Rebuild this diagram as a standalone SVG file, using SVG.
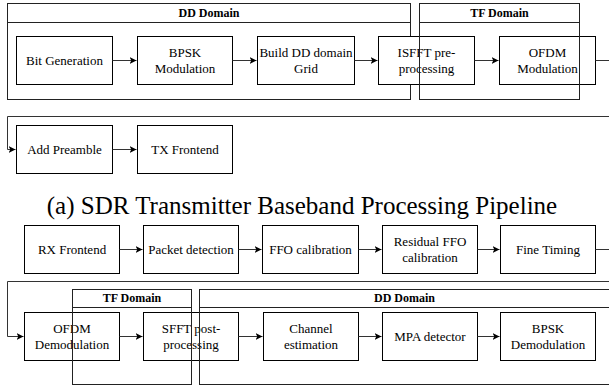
<svg xmlns="http://www.w3.org/2000/svg" width="609" height="387" viewBox="0 0 609 387" font-family="'Liberation Serif', 'Times New Roman', serif">
<defs>
<marker id="ah" markerWidth="8" markerHeight="8" refX="7" refY="4" orient="auto" markerUnits="userSpaceOnUse">
<path d="M0,0.5 L7,4 L0,7.5 L1.8,4 Z" fill="#000"/>
</marker>
<style>
.n rect{fill:#fff;stroke:#000;stroke-width:1}
.d rect,.d line{fill:none;stroke:#222;stroke-width:1}
.t{font-family:'Liberation Serif','Times New Roman',serif;font-size:13px;text-anchor:middle;fill:#000}
.h{font-family:'Liberation Serif','Times New Roman',serif;font-size:12px;font-weight:bold;text-anchor:middle;fill:#000}
.c path{fill:none;stroke:#333;stroke-width:1;marker-end:url(#ah)}
.cap{font-family:'Liberation Serif','Times New Roman',serif;font-size:25px;text-anchor:middle;fill:#000}
</style>
</defs>

<g id="dd-domain-tx" class="d">
<rect x="7.5" y="3.5" width="403" height="96"/>
<line x1="7.5" y1="22.5" x2="410.5" y2="22.5"/>
<text class="h" x="209" y="17">DD Domain</text>
</g>

<g id="bit-gen" class="n"><rect x="16.5" y="36.5" width="96" height="48"/><text class="t" x="64.5" y="65">Bit Generation</text></g>
<g id="bpsk-mod" class="n"><rect x="137.5" y="36.5" width="95" height="48"/><text class="t" x="185" y="57">BPSK</text><text class="t" x="185" y="73">Modulation</text></g>
<g id="build-dd" class="n"><rect x="257.5" y="36.5" width="97" height="48"/><text class="t" x="306" y="57">Build DD domain</text><text class="t" x="306" y="73">Grid</text></g>
<g id="isfft" class="n"><rect x="378.5" y="36.5" width="96" height="48"/><text class="t" x="426.5" y="57">ISFFT pre-</text><text class="t" x="426.5" y="73">processing</text></g>
<g id="ofdm-mod" class="n"><rect x="499.5" y="36.5" width="96" height="48"/><text class="t" x="547.5" y="57">OFDM</text><text class="t" x="547.5" y="73">Modulation</text></g>

<g id="tf-domain-tx" class="d">
<rect x="419.5" y="3.5" width="160" height="96"/>
<line x1="419.5" y1="22.5" x2="579.5" y2="22.5"/>
<text class="h" x="499.5" y="17">TF Domain</text>
</g>

<g id="add-preamble" class="n"><rect x="16.5" y="125.5" width="96" height="48"/><text class="t" x="64.5" y="154">Add Preamble</text></g>
<g id="tx-frontend" class="n"><rect x="137.5" y="125.5" width="95" height="48"/><text class="t" x="185" y="154">TX Frontend</text></g>

<text id="caption" class="cap" x="302" y="214">(a) SDR Transmitter Baseband Processing Pipeline</text>

<g id="rx-frontend" class="n"><rect x="24.5" y="225.5" width="95" height="48"/><text class="t" x="72" y="254">RX Frontend</text></g>
<g id="packet-det" class="n"><rect x="143.5" y="225.5" width="95" height="48"/><text class="t" x="191" y="254">Packet detection</text></g>
<g id="ffo-cal" class="n"><rect x="262.5" y="225.5" width="96" height="48"/><text class="t" x="310.5" y="254">FFO calibration</text></g>
<g id="res-ffo" class="n"><rect x="382.5" y="225.5" width="95" height="48"/><text class="t" x="430" y="246">Residual FFO</text><text class="t" x="430" y="262">calibration</text></g>
<g id="fine-timing" class="n"><rect x="500.5" y="225.5" width="95" height="48"/><text class="t" x="548" y="254">Fine Timing</text></g>

<g id="ofdm-demod" class="n"><rect x="24.5" y="312.5" width="95" height="48"/><text class="t" x="72" y="333">OFDM</text><text class="t" x="72" y="349">Demodulation</text></g>
<g id="sfft" class="n"><rect x="143.5" y="312.5" width="95" height="48"/><text class="t" x="191" y="333">SFFT post-</text><text class="t" x="191" y="349">processing</text></g>
<g id="chan-est" class="n"><rect x="263.5" y="312.5" width="95" height="48"/><text class="t" x="311" y="333">Channel</text><text class="t" x="311" y="349">estimation</text></g>
<g id="mpa" class="n"><rect x="382.5" y="312.5" width="95" height="48"/><text class="t" x="430" y="341">MPA detector</text></g>
<g id="bpsk-demod" class="n"><rect x="500.5" y="312.5" width="95" height="48"/><text class="t" x="548" y="333">BPSK</text><text class="t" x="548" y="349">Demodulation</text></g>

<g id="tf-domain-rx" class="d">
<rect x="72.5" y="289.5" width="119" height="95"/>
<line x1="72.5" y1="307.5" x2="191.5" y2="307.5"/>
<text class="h" x="132" y="302">TF Domain</text>
</g>
<g id="dd-domain-rx" class="d">
<rect x="199.5" y="289.5" width="411" height="95"/>
<line x1="199.5" y1="307.5" x2="610.5" y2="307.5"/>
<text class="h" x="404.5" y="302">DD Domain</text>
</g>

<g id="connectors" class="c">
<path d="M112.5,60.5 H136.5"/>
<path d="M232.5,60.5 H256.5"/>
<path d="M354.5,60.5 H377.5"/>
<path d="M474.5,60.5 H498.5"/>
<path d="M595.5,60.5 H612 V116.5 H7.5 V149.5 H15.5"/>
<path d="M112.5,149.5 H136.5"/>
<path d="M119.5,249.5 H142.5"/>
<path d="M238.5,249.5 H261.5"/>
<path d="M358.5,249.5 H381.5"/>
<path d="M477.5,249.5 H499.5"/>
<path d="M595.5,249.5 H612 V281.5 H7.5 V336.5 H23.5"/>
<path d="M119.5,336.5 H142.5"/>
<path d="M238.5,336.5 H262.5"/>
<path d="M358.5,336.5 H381.5"/>
<path d="M477.5,336.5 H499.5"/>
</g>
</svg>
